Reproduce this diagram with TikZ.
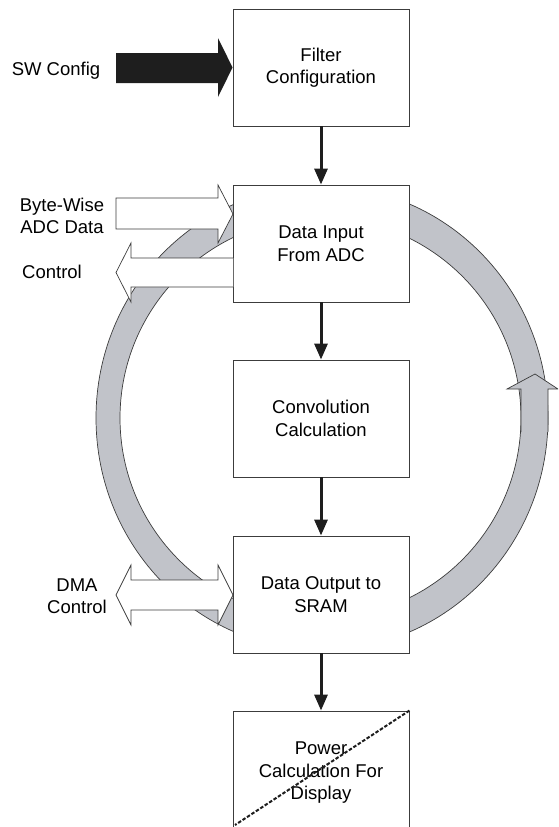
\documentclass[tikz,border=0pt]{standalone}
\usepackage{fontspec}
\setmainfont{Liberation Sans}
\usetikzlibrary{arrows.meta,calc}
\definecolor{ringgray}{RGB}{193,195,201}
\definecolor{boxline}{RGB}{60,60,60}
\definecolor{arrowblk}{RGB}{30,30,30}
\newcommand\bodyfont{\fontsize{18.5}{22.5}\selectfont}
\tikzset{
  blk/.style={draw=boxline, line width=0.9pt, fill=white, minimum width=176pt,
    minimum height=117pt, inner sep=0pt, align=center, font=\bodyfont},
  flow/.style={draw=arrowblk, line width=3pt, -{Triangle[length=16pt,width=13pt]}},
  hollow/.style={draw=boxline, line width=0.7pt, fill=white, line join=miter},
  ringline/.style={draw=boxline, line width=0.7pt},
  lbl/.style={align=center, font=\bodyfont, inner sep=0pt},
  dashline/.style={draw=arrowblk, line width=2pt, dash pattern=on 3.5pt off 1.8pt},
}
\begin{document}
\begin{tikzpicture}[x=1pt,y=-1pt]
\useasboundingbox (0,0) rectangle (558,827);
\clip (0,0) rectangle (558,827);
% ring
\fill[ringgray, even odd rule] (322,418) ellipse [x radius=226pt, y radius=232pt]
  (320.5,418) circle [radius=200.5pt];
\draw[ringline] (322,418) ellipse [x radius=226pt, y radius=232pt];
\draw[ringline] (320.5,418) circle [radius=200.5pt];
% ring arrow head on the right
\fill[ringgray] (521,432) -- (521,389) -- (507,389) -- (535,374) -- (558,389) -- (548,389) -- (548,432) -- cycle;
\draw[ringline, line join=miter] (521,432) -- (521,389) -- (507,389) -- (535,374) -- (558,389) -- (548,389) -- (548,432);
% boxes
\node[blk] (b1) at (321,67.5) {Filter\\Configuration};
\node[blk] (b2) at (321,243.5) {Data Input\\From ADC};
\node[blk] (b3) at (321,418.5) {Convolution\\Calculation};
\node[blk] (b4) at (321,594.5) {Data Output to\\SRAM};
\node[blk, minimum height=124pt] (b5) at (321,773) {Power\\Calculation For\\Display};
% flow arrows
\draw[flow] (b1.south) -- (b2.north);
\draw[flow] (b2.south) -- (b3.north);
\draw[flow] (b3.south) -- (b4.north);
\draw[flow] (b4.south) -- (b5.north);
% dashed cross-out
\coordinate (dend) at (235,825);
\draw[dashline] (b5.north east) -- (dend);
% block arrows
\fill[arrowblk] (116,53) -- (218,53) -- (218,38) -- (b1.west) -- (218,97) -- (218,83) -- (116,83) -- cycle;
\filldraw[hollow] (116,198) -- (218,198) -- (218,185) -- (233,214) -- (218,243) -- (218,229) -- (116,229) -- cycle;
\fill[white] (233,258) -- (131,258) -- (131,243) -- (116,272.5) -- (131,302) -- (131,287) -- (233,287) -- cycle;
\draw[hollow] (233,258) -- (131,258) -- (131,243) -- (116,272.5) -- (131,302) -- (131,287) -- (233,287);
\filldraw[hollow] (131,580) -- (218,580) -- (218,565) -- (233,595) -- (218,625) -- (218,610)
  -- (131,610) -- (131,625) -- (116,595) -- (131,565) -- cycle;
% labels
\node[lbl] (swl) at (56,71) {SW Config};
\node[lbl] (bwl) at (62,216) {Byte-Wise\\ADC Data};
\node[lbl] (ctl) at (52,272) {Control};
\node[lbl] (dmal) at (77,596) {DMA\\Control};
\end{tikzpicture}
\end{document}
